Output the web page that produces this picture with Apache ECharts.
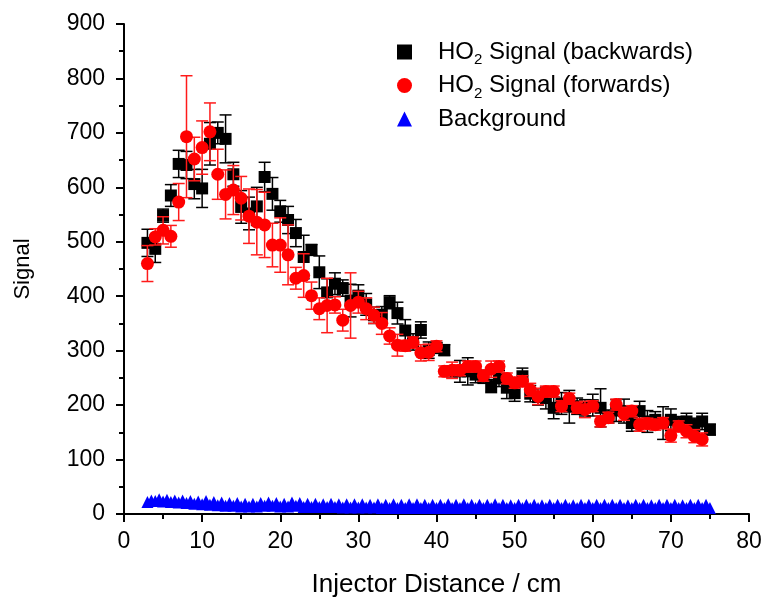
<!DOCTYPE html>
<html><head><meta charset="utf-8">
<script src="https://cdn.jsdelivr.net/npm/echarts@6/dist/echarts.min.js"></script>
<style>html,body{margin:0;padding:0;background:#fff}#c{width:764px;height:598px}</style>
</head><body><div id="c"></div>
<script>
var xBack = [3,4,5,6,7,8,9,10,11,12,13,14,15,16,17,18,19,20,21,22,23,24,25,26,27,28,29,30,31,32,33,34,35,36,37,38,39,40,41,42,43,44,45,46,47,48,49,50,51,52,53,54,55,56,57,58,59,60,61,62,63,64,65,66,67,68,69,70,71,72,73,74,75];
var yBack = [498,487,548,585,643,641,606,598,680,700,689,624,564,552,565,619,588,556,540,516,472,485,444,407,423,415,392,401,385,365,366,389,369,337,316,338,301,305,301,262,262,262,256,252,235,249,232,222,253,221,215,213,195,203,197,198,195,200,195,179,190,189,167,189,170,173,167,173,167,170,164,170,155];
var eBack = [25,25,12,20,25,25,27,35,39,20,44,22,30,30,35,27,30,20,25,25,40,10,30,25,20,15,30,20,20,15,15,12,20,20,15,15,15,10,10,10,20,25,15,12,12,15,20,15,15,15,15,20,20,20,30,15,15,20,35,12,20,22,15,18,20,15,30,20,12,15,12,15,10];

var xFwd = [3,4,5,6,7,8,9,10,11,12,13,14,15,16,17,18,19,20,21,22,23,24,25,26,27,28,29,30,31,32,33,34,35,36,37,38,39,40,41,42,43,44,45,46,47,48,49,50,51,52,53,54,55,56,57,58,59,60,61,62,63,64,65,66,67,68,69,70,71,72,73,74];
var yFwd = [460,509,521,510,573,693,652,673,702,624,587,595,580,547,536,531,494,494,476,433,438,401,377,383,384,356,383,389,377,365,350,327,310,309,315,296,297,308,262,264,264,271,271,254,266,271,249,241,244,228,216,225,225,198,212,195,192,198,170,177,201,184,189,164,166,164,167,144,161,152,143,137];
var eFwd = [33,15,25,20,34,112,40,49,53,46,45,45,40,50,60,60,40,50,55,20,40,25,20,50,15,20,60,20,20,15,20,15,20,10,10,15,15,10,10,15,10,10,10,10,15,10,10,10,10,12,15,10,10,10,10,10,15,10,10,10,10,12,10,12,10,10,10,12,10,12,12,12];

var xBg = [3,3.5,4,4.5,5,5.5,6,6.5,7,7.5,8,8.5,9,9.5,10,10.5,11,11.5,12,12.5,13,13.5,14,14.5,15,15.5,16,16.5,17,17.5,18,18.5,19,19.5,20,20.5,21,21.5,22,22.5,23,23.5,24,24.5,25,25.5,26,26.5,27,27.5,28,28.5,29,29.5,30,30.5,31,31.5,32,32.5,33,33.5,34,34.5,35,35.5,36,36.5,37,37.5,38,38.5,39,39.5,40,40.5,41,41.5,42,42.5,43,43.5,44,44.5,45,45.5,46,46.5,47,47.5,48,48.5,49,49.5,50,50.5,51,51.5,52,52.5,53,53.5,54,54.5,55,55.5,56,56.5,57,57.5,58,58.5,59,59.5,60,60.5,61,61.5,62,62.5,63,63.5,64,64.5,65,65.5,66,66.5,67,67.5,68,68.5,69,69.5,70,70.5,71,71.5,72,72.5,73,73.5,74,74.5,75];
var yBg = [22,25,24,27,23,26,22,25,21,25,20,24,19,23,18,24,17,22,16,21,15,20,15,20,14,19,14,19,14,20,15,21,15,20,14,19,14,21,15,20,13,19,13,19,13,18,13,19,13,18,12,18,12,18,12,18,12,17,12,18,11,17,11,18,11,17,11,18,11,18,11,17,11,17,11,17,11,18,11,17,11,18,11,17,11,17,11,17,11,18,11,17,11,16,11,17,11,17,11,17,11,16,11,17,11,17,11,17,11,16,11,17,11,17,11,17,11,17,11,17,11,17,11,16,11,17,11,17,11,16,11,17,11,17,11,17,11,16,11,17,11,17,11,17,11,16,10];

var xTicks = [0,10,20,30,40,50,60,70,80];
var yTicks = [0,100,200,300,400,500,600,700,800,900];

function errData(xs, ys, es) {
  return xs.map(function (x, i) { return [x, ys[i] - es[i], ys[i] + es[i]]; });
}
function errSeries(name, data, color, z) {
  return {
    type: 'custom', name: name, z: z, silent: true,
    data: data,
    encode: { x: 0, y: [1, 2] },
    renderItem: function (params, api) {
      var lo = api.coord([api.value(0), api.value(1)]);
      var hi = api.coord([api.value(0), api.value(2)]);
      var hw = 6;
      var st = { stroke: color, lineWidth: 1.5 };
      return { type: 'group', children: [
        { type: 'line', shape: { x1: lo[0], y1: lo[1], x2: hi[0], y2: hi[1] }, style: st },
        { type: 'line', shape: { x1: lo[0] - hw, y1: lo[1], x2: lo[0] + hw, y2: lo[1] }, style: st },
        { type: 'line', shape: { x1: hi[0] - hw, y1: hi[1], x2: hi[0] + hw, y2: hi[1] }, style: st }
      ]};
    }
  };
}
function pts(xs, ys) { return xs.map(function (x, i) { return [x, ys[i]]; }); }

var FONT = 'Liberation Sans, Arial, sans-serif';
var chart = echarts.init(document.getElementById('c'), null, { renderer: 'canvas' });
var option = {
  animation: false,
  backgroundColor: '#fff',
  textStyle: { fontFamily: FONT },
  grid: { left: 124, right: 15, top: 24, bottom: 84, containLabel: false, outerBoundsMode: 'none' },
  legend: {
    orient: 'vertical', left: 392, top: 35, itemGap: 6,
    itemWidth: 15, itemHeight: 15,
    data: ['HO2 Signal (backwards)', 'HO2 Signal (forwards)', 'Background'],
    formatter: function (n) {
      if (n.indexOf('HO2') === 0) return '{a|HO}{s|2}{a|' + n.slice(3) + '}';
      return '{a|' + n + '}';
    },
    textStyle: {
      padding: [0, 0, 0, 21],
      rich: {
        a: { fontSize: 24, fontFamily: FONT, color: '#000' },
        s: { fontSize: 15, fontFamily: FONT, color: '#000', padding: [16, 0, 0, 0] }
      }
    }
  },
  xAxis: {
    type: 'value', min: 0, max: 80, interval: 10,
    name: 'Injector Distance / cm', nameLocation: 'middle', nameGap: 58,
    nameTextStyle: { fontSize: 26, color: '#000', fontFamily: FONT },
    axisLine: { show: true, onZero: false, lineStyle: { color: '#000', width: 2 } },
    axisTick: { show: true, inside: false, length: 8, lineStyle: { color: '#000', width: 2 } },
    minorTick: { show: true, splitNumber: 2, length: 5, lineStyle: { color: '#000', width: 2 } },
    axisLabel: { fontSize: 23, color: '#000', margin: 16, fontFamily: FONT,
      formatter: function (v) { return xTicks.indexOf(v) >= 0 ? String(v) : ''; } },
    splitLine: { show: false }
  },
  yAxis: {
    type: 'value', min: 0, max: 900, interval: 100,
    name: 'Signal', nameLocation: 'middle', nameGap: 90, nameRotate: 90,
    nameTextStyle: { fontSize: 22, color: '#000', fontFamily: FONT },
    axisLine: { show: true, onZero: false, lineStyle: { color: '#000', width: 2 } },
    axisTick: { show: true, inside: false, length: 8, lineStyle: { color: '#000', width: 2 } },
    minorTick: { show: true, splitNumber: 2, length: 5, lineStyle: { color: '#000', width: 2 } },
    axisLabel: { fontSize: 23, color: '#000', margin: 19, fontFamily: FONT,
      formatter: function (v) { return yTicks.indexOf(v) >= 0 ? String(v) : ''; } },
    splitLine: { show: false }
  },
  series: [
    errSeries('errB', errData(xBack, yBack, eBack), '#000', 2),
    { type: 'scatter', name: 'HO2 Signal (backwards)', z: 3, symbol: 'rect', symbolSize: 12,
      itemStyle: { color: '#000', opacity: 1 }, data: pts(xBack, yBack) },
    errSeries('errF', errData(xFwd, yFwd, eFwd), '#ff1a1a', 4),
    { type: 'scatter', name: 'HO2 Signal (forwards)', z: 5, symbol: 'circle', symbolSize: 13,
      itemStyle: { color: '#ff0000', opacity: 1 }, data: pts(xFwd, yFwd) },
    { type: 'scatter', name: 'Background', z: 6, symbol: 'triangle', symbolSize: 12,
      itemStyle: { color: '#0000ff', opacity: 1 }, data: pts(xBg, yBg) }
  ]
};
chart.setOption(option);
</script></body></html>
